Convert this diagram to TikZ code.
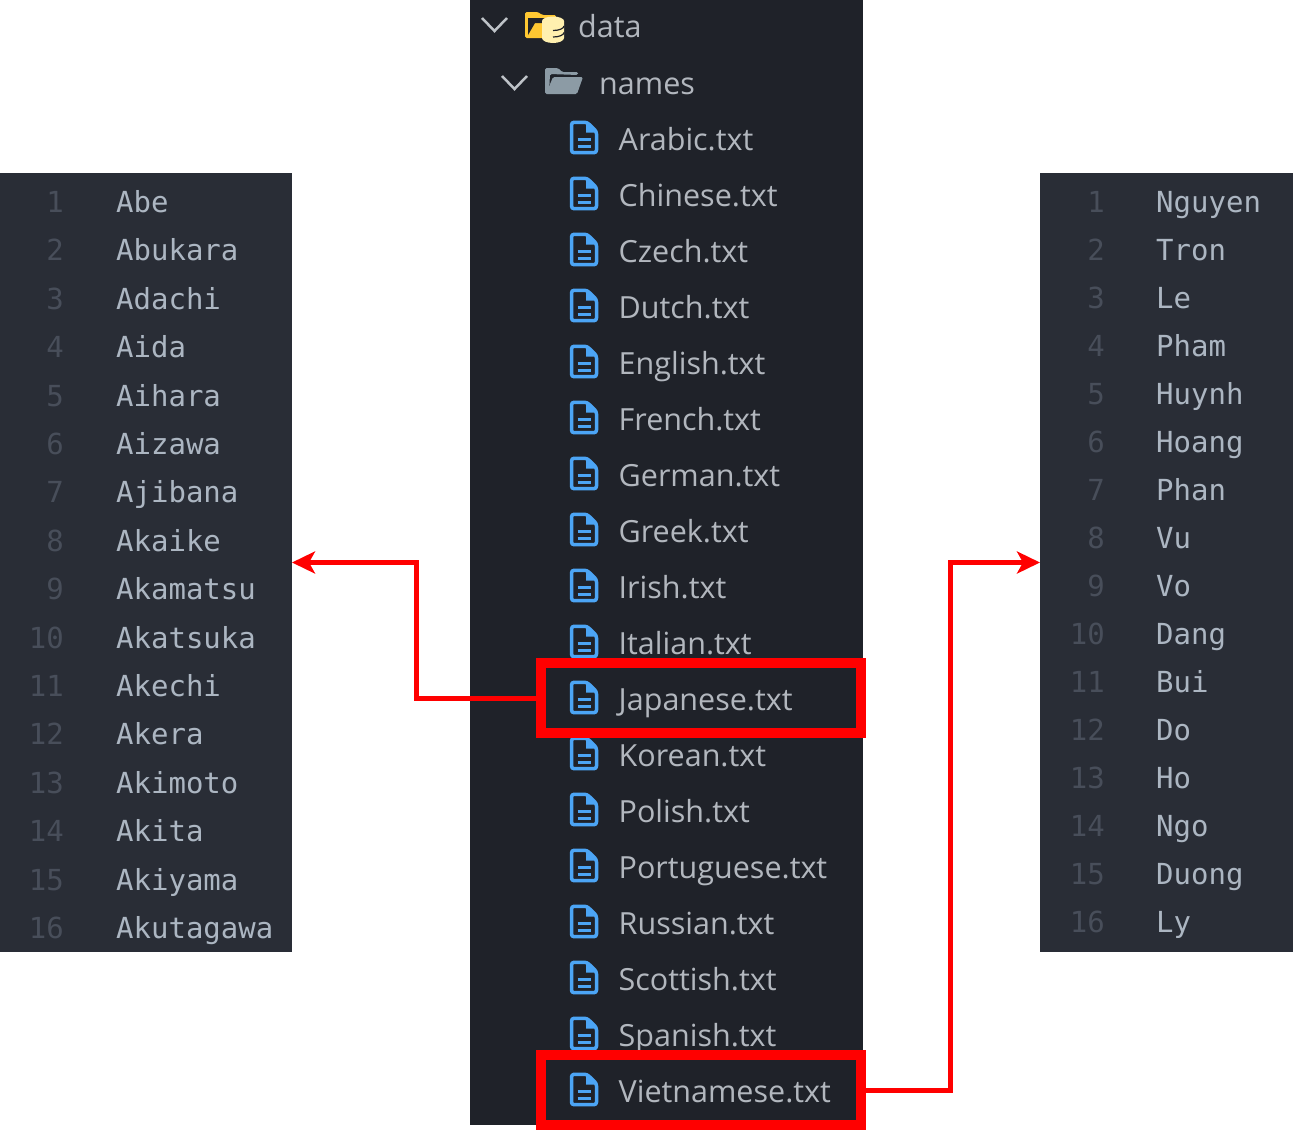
\documentclass[tikz,border=0pt]{standalone}
\usepackage{fontspec}
\setmainfont{Open Sans}
\setmonofont{DejaVu Sans Mono}
\usetikzlibrary{arrows.meta, positioning}
\definecolor{treebg}{RGB}{31, 34, 41}
\definecolor{editorbg}{RGB}{41, 45, 54}
\definecolor{treetext}{RGB}{178, 183, 190}
\definecolor{nametext}{RGB}{172, 182, 194}
\definecolor{linenum}{RGB}{72, 78, 90}
\definecolor{fileblue}{RGB}{76, 165, 245}
\definecolor{folderyellow}{RGB}{255, 200, 50}
\definecolor{dbcream}{RGB}{255, 240, 175}
\definecolor{foldergray}{RGB}{140, 155, 165}
\definecolor{chevron}{RGB}{190, 195, 200}
\definecolor{markred}{RGB}{255, 0, 0}
\tikzset{
    panel/.style={fill=#1, inner sep=0pt, outer sep=0pt},
    treelabel/.style={anchor=base west, inner sep=0pt, text=treetext, font=\fontsize{30.5}{30.5}\selectfont},
    linelabel/.style={anchor=base east, inner sep=0pt, text=linenum, font=\ttfamily\fontsize{29}{29}\selectfont},
    namelabel/.style={anchor=base west, inner sep=0pt, text=nametext, font=\ttfamily\fontsize{29}{29}\selectfont},
    markbox/.style={draw=markred, line width=10pt, inner sep=0pt, minimum width=320.5pt, minimum height=70pt},
    markline/.style={draw=markred, line width=5pt},
    fileicon/.pic={
        \draw[fileblue, line width=3.5pt, line join=round, rounded corners=2.5pt]
            (-12.5,-15.2) -- (3,-15.2) -- (12.5,-6) -- (12.5,15.2) -- (-12.5,15.2) -- cycle;
        \fill[fileblue] (2,-16) -- (13,-5) -- (2,-5) -- cycle;
        \draw[fileblue, line width=3pt] (-6.5,1.5) -- (6.5,1.5) (-6.5,8.5) -- (6.5,8.5);
    }
}
\begin{document}
\begin{tikzpicture}[x=1pt, y=-1pt]
    \useasboundingbox (0,0) rectangle (1293,1130);
    % panels
    \node[panel=editorbg, minimum width=292pt, minimum height=779pt] (leftpanel) at (146,562.5) {};
    \node[panel=treebg, minimum width=393pt, minimum height=1125pt] (treepanel) at (666.5,562.5) {};
    \node[panel=editorbg, minimum width=253pt, minimum height=779pt] (rightpanel) at (1166.5,562.5) {};
    % project tree
    \draw[chevron, line width=2.5pt] (482,18) -- (494.5,31) -- (507,18);
    \draw[chevron, line width=2.5pt] (502,76) -- (514.5,89) -- (527,76);
    \fill[folderyellow, rounded corners=1.5pt] (525,38) -- (525,12) -- (538,12) -- (542,15) -- (556,15) -- (556,38) -- cycle;
    \fill[treebg] (528,18) -- (556,18) -- (556,23) -- (535,23) -- (528,35) -- cycle;
    \fill[dbcream] (542,21) -- (564,21) -- (564,38) arc (0:180:11 and 5) -- cycle;
    \fill[dbcream] (553,21) ellipse (11 and 4.5);
    \foreach \yy in {26.5,33} {
        \draw[treebg, line width=1.2pt] (553,\yy+4) arc (90:0:11 and 4.5);
    }
    \fill[foldergray, rounded corners=1.5pt] (545,94) -- (545,68) -- (558,68) -- (562,72) -- (578,72) -- (578,75) -- (550,74) -- (549,94) -- cycle;
    \fill[foldergray, rounded corners=1.5pt] (553,77) -- (583,77) -- (577,94) -- (546,94) -- cycle;
    \node[treelabel] (datalabel) at (578,37.5) {data};
    \node[treelabel] (nameslabel) at (599,94.5) {names};
    \foreach \lang [count=\i from 0] in {Arabic,Chinese,Czech,Dutch,English,French,German,Greek,Irish,Italian,Japanese,Korean,Polish,Portuguese,Russian,Scottish,Spanish,Vietnamese} {
        \pic at (584,137.5+56*\i) {fileicon};
        \node[treelabel] (file\i) at (618.5,150+56*\i) {\lang.txt};
    }
    % left editor
    \foreach \nm [count=\i] in {Abe,Abukara,Adachi,Aida,Aihara,Aizawa,Ajibana,Akaike,Akamatsu,Akatsuka,Akechi,Akera,Akimoto,Akita,Akiyama,Akutagawa} {
        \node[linelabel] (leftnum\i) at (64,164+48.4*\i) {\i};
        \node[namelabel] (leftname\i) at (116,164+48.4*\i) {\nm};
    }
    % right editor
    \foreach \nm [count=\i] in {Nguyen,Tron,Le,Pham,Huynh,Hoang,Phan,Vu,Vo,Dang,Bui,Do,Ho,Ngo,Duong,Ly} {
        \node[linelabel] (rightnum\i) at (1105,164.5+47.97*\i) {\i};
        \node[namelabel] (rightname\i) at (1156,164.5+47.97*\i) {\nm};
    }
    % highlights
    \node[markbox] (japanbox) at (700.75,698) {};
    \node[markbox] (vietbox) at (700.75,1090) {};
    \coordinate (leftbend) at (416,562.5);
    \coordinate (rightbend) at (950,562.5);
    \draw[markline, -{Stealth[length=23pt, width=22pt, inset=6pt]}] (japanbox.west) -| (leftbend) -- (leftpanel.east);
    \draw[markline, -{Stealth[length=23pt, width=22pt, inset=6pt]}] (vietbox.east) -| (rightbend) -- (rightpanel.west);
\end{tikzpicture}
\end{document}
